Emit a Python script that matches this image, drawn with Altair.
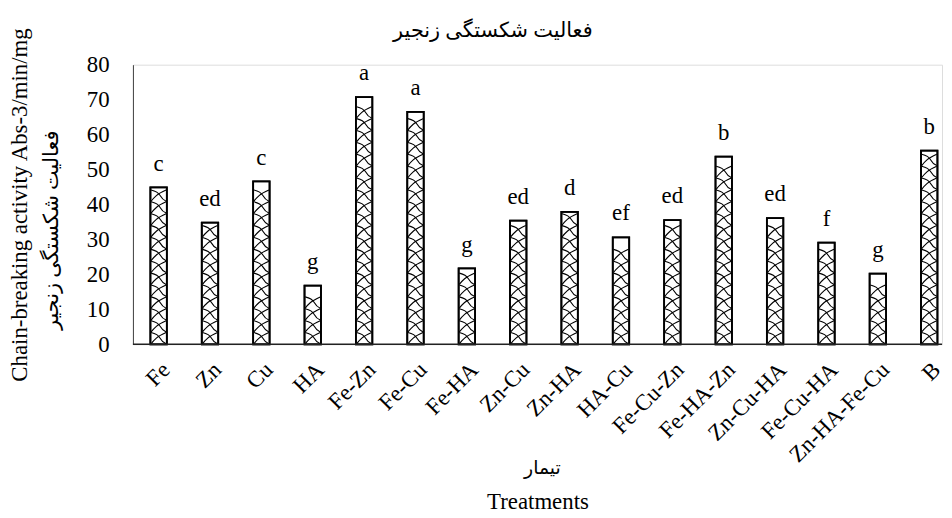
import altair as alt
import pandas as pd

treatments = ["Fe", "Zn", "Cu", "HA", "Fe-Zn", "Fe-Cu", "Fe-HA", "Zn-Cu", "Zn-HA",
              "HA-Cu", "Fe-Cu-Zn", "Fe-HA-Zn", "Zn-Cu-HA", "Fe-Cu-HA", "Zn-HA-Fe-Cu", "B"]
values = [44.9, 34.8, 46.6, 16.8, 70.7, 66.5, 21.7, 35.4, 37.9, 30.6, 35.5, 53.7, 36.1, 29.1, 20.2, 55.4]
letters = ["c", "ed", "c", "g", "a", "a", "g", "ed", "d", "ef", "ed", "b", "ed", "f", "g", "b"]
y_ticks = [0, 10, 20, 30, 40, 50, 60, 70, 80]

title_fa = ["فعالیت شکستگی زنجیر"]
ylabel_en = "Chain-breaking activity Abs-3/min/mg"
ylabel_fa = ["فعالیت شکستگی زنجیر"]
xlabel_en = "Treatments"
xlabel_fa = ["تیمار"]

SERIF = "Liberation Serif"
FA_FONT = "Liberation Serif, DejaVu Sans"

df = pd.DataFrame({"treatment": treatments, "value": values, "letter": letters})

W, H = 816, 282

x_axis = alt.Axis(
    labelAngle=-45, labelFont=SERIF, labelFontSize=23, labelColor="black",
    labelPadding=14, ticks=False, tickSize=0, domain=False,
    title=xlabel_en, titleFont=SERIF, titleFontSize=23, titleFontWeight="normal",
    titleColor="black", titleY=166, titleX=W / 2, titleBaseline="alphabetic",
)
x_scale = alt.Scale(paddingInner=0.68, paddingOuter=0.34, range=[0, 829])
y_axis = alt.Axis(
    values=y_ticks, grid=False, ticks=False, tickSize=0, labelFont=SERIF,
    labelFontSize=23, labelColor="black", labelPadding=24, labelOverlap=False,
    domainColor="#404040", domainWidth=1,
    title=ylabel_en, titleFont=SERIF, titleFontSize=23, titleFontWeight="normal",
    titleColor="black", titleX=-107, titleY=H / 2, titleBaseline="alphabetic",
    titleAlign="center",
)
y_scale = alt.Scale(domain=[0, 80], nice=False)


def xe():
    return alt.X("treatment:N", sort=treatments, scale=x_scale, axis=x_axis)


def ye(field):
    return alt.Y(field, scale=y_scale, axis=y_axis)


bars = alt.Chart(df).mark_bar(fill="white", stroke="black", strokeWidth=1.8).encode(
    x=xe(), y=ye("value:Q")
)

motif = ("M -1 -0.75 Q -0.1 -0.55 0.2 0 T 1 0.75 "
         "M 1 -0.75 Q 0.1 -0.35 -0.3 0 T -1 0.75")

pattern = alt.Chart(df).transform_calculate(
    s="sequence(1.75, datum.value - 1.75, 3.4)"
).transform_flatten(["s"]).mark_point(
    shape=motif, size=230, filled=False, stroke="black", strokeWidth=1.1, opacity=1
).encode(x=xe(), y=ye("s:Q"))

outline = alt.Chart(df).mark_bar(fillOpacity=0, stroke="black", strokeWidth=1.8).encode(
    x=xe(), y=ye("value:Q")
)

baseline = alt.Chart(pd.DataFrame({"v": [0]})).mark_rule(
    color="#222222", strokeWidth=1.5
).encode(y=ye("v:Q"), x=alt.value(0), x2=alt.value(W))

labels = alt.Chart(df).mark_text(
    font=SERIF, fontSize=23, color="black", baseline="alphabetic", dy=-17
).encode(x=xe(), y=ye("value:Q"), text="letter:N")

yfa = alt.Chart(pd.DataFrame({"t": ylabel_fa})).mark_text(
    font=FA_FONT, fontSize=21, color="black", angle=270, align="center", baseline="middle"
).encode(text="t:N", x=alt.value(-82), y=alt.value(167))

xfa = alt.Chart(pd.DataFrame({"t": xlabel_fa})).mark_text(
    font=FA_FONT, fontSize=19, color="black", align="center", baseline="middle"
).encode(text="t:N", x=alt.value(413), y=alt.value(407))

ttl = alt.Chart(pd.DataFrame({"t": title_fa})).mark_text(
    font=FA_FONT, fontSize=21, color="black", align="center", baseline="middle"
).encode(text="t:N", x=alt.value(363), y=alt.value(-34))

chart = alt.layer(bars, pattern, outline, baseline, labels, yfa, xfa, ttl).properties(
    width=W, height=H,
    autosize=alt.AutoSizeParams(type="none"),
    padding={"left": 126, "top": 55, "right": 2, "bottom": 172},
).configure_view(stroke=None).configure(background="white")

chart.save("out.html", embed_options={"renderer": "svg", "actions": False})
